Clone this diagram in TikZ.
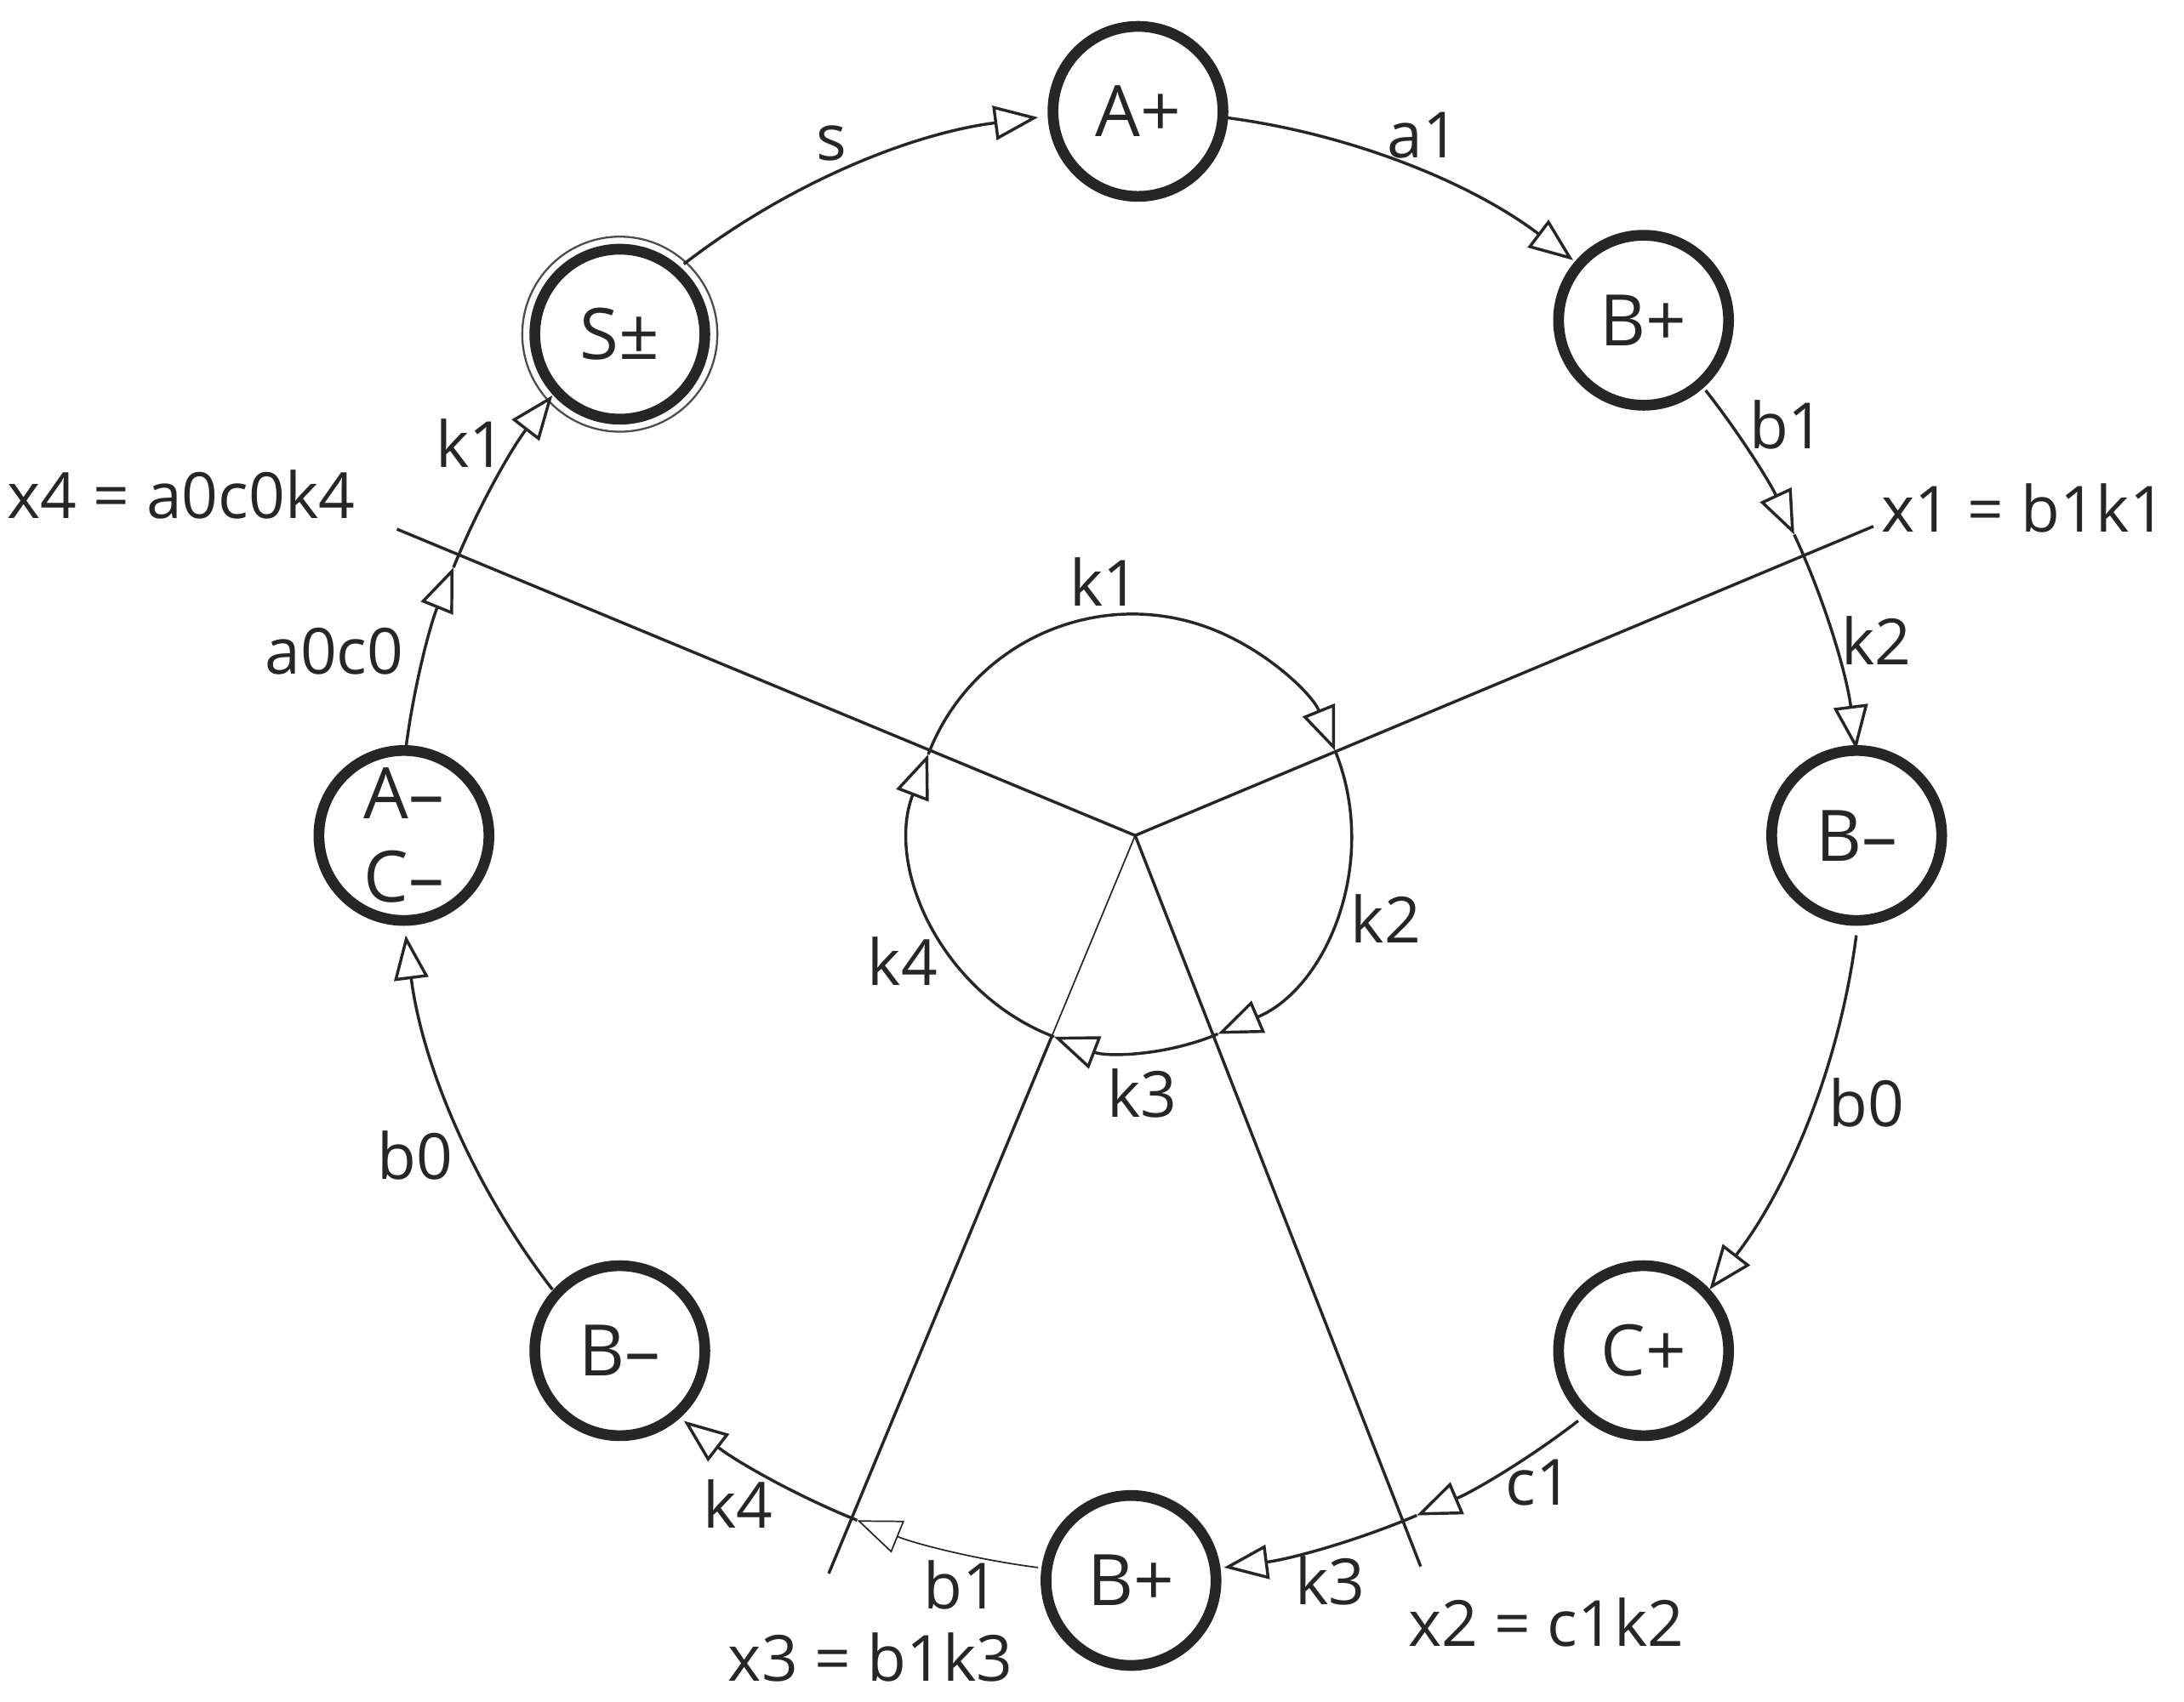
\documentclass[tikz,border=0pt]{standalone}
\usepackage{fontspec}
\setmainfont{Open Sans}
\usetikzlibrary{arrows.meta,calc}
\begin{document}
\begin{tikzpicture}[x=0.01cm,y=-0.01cm,
  st/.style={circle,draw=black!85,line width=2.2pt,minimum size=1.22cm,inner sep=0pt,font=\fontsize{14.5}{16}\selectfont,text=black!85},
  lab/.style={font=\fontsize{13}{14}\selectfont,text=black!85},
  ed/.style={draw=black!85,line width=0.6pt,-{Triangle[open,length=9pt,width=7pt]}},
  ln/.style={draw=black!85,line width=0.6pt}]
\useasboundingbox (0,0) rectangle (1568,1222);
\coordinate (C) at (812,605);
\coordinate (H) at (815,600);
\coordinate (IC) at (813,598);
\node[st] (Ap) at (817,80) {A+};
\node[st] (Bp1) at (1180,230) {B+};
\node[st] (Bm1) at (1333,600) {B–};
\node[st] (Cp) at (1180,970) {C+};
\node[st] (Bp2) at (812,1135) {B+};
\node[st] (Bm2) at (445,970) {B–};
\node[st,align=center,font=\fontsize{14.5}{17}\selectfont] (AC) at (290,600) {A–\\C–};
\node[st] (S) at (445,240) {S±};
\draw[black!70,line width=0.4pt] (S) circle[radius=0.7cm];
% outer arcs (radius 525 px); angles negated because y axis points down
\def\R{525}
\draw[ed] (C) ++(-127.7:\R) arc[start angle=-127.7,end angle=-97.3,radius=\R];
\draw[ed] (C) ++(-82.7:\R) arc[start angle=-82.7,end angle=-52.8,radius=\R];
\draw[ed] (C) ++(-38.2:\R) arc[start angle=-38.2,end angle=-24.9,radius=\R];
\draw[ed] (C) ++(-24.9:\R) arc[start angle=-24.9,end angle=-7.3,radius=\R];
\draw[ed] (C) ++(7.3:\R) arc[start angle=7.3,end angle=37.7,radius=\R];
\draw[ed] (C) ++(52.3:\R) arc[start angle=52.3,end angle=67,radius=\R];
\draw[ed] (C) ++(67:\R) arc[start angle=67,end angle=82.7,radius=\R];
\draw[ed,line width=0.3pt] (C) ++(97.3:\R) arc[start angle=97.3,end angle=112,radius=\R];
\draw[ed] (C) ++(112:\R) arc[start angle=112,end angle=127.7,radius=\R];
\draw[ed] (C) ++(142.3:\R) arc[start angle=142.3,end angle=172.7,radius=\R];
\draw[ed] (C) ++(-172.7:\R) arc[start angle=-172.7,end angle=-157.9,radius=\R];
\draw[ed] (C) ++(-157.9:\R) arc[start angle=-157.9,end angle=-142.3,radius=\R];
% inner circle (radius 157)
\def\r{157}
\draw[ed] (IC) ++(-159:\r) arc[start angle=-159,end angle=-22,radius=\r];
\draw[ed] (IC) ++(-22:\r) arc[start angle=-22,end angle=67,radius=\r];
\draw[ed] (IC) ++(67:\r) arc[start angle=67,end angle=111,radius=\r];
\draw[ed] (IC) ++(111:\r) arc[start angle=111,end angle=201,radius=\r];
% radial lines
\coordinate (e4) at (285,380);
\coordinate (e1) at (1345,378);
\coordinate (e2) at (1020,1125);
\coordinate (e3) at (595,1130);
\draw[ln] (H) -- (e4);
\draw[ln] (H) -- (e1);
\draw[ln] (H) -- (e2);
\coordinate (m3) at ($(H)!0.27!(e3)$);
\draw[ln,line width=0.3pt] (H) -- (m3);
\draw[ln] (m3) -- (e3);
% labels
\node[lab] (l1) at (597,103) {s};
\node[lab] (l2) at (1022,97) {a1};
\node[lab] (l3) at (1283,305) {b1};
\node[lab] (l4) at (1347,460) {k2};
\node[lab] (l5) at (1340,792) {b0};
\node[lab] (l6) at (1105,1065) {c1};
\node[lab] (l7) at (955,1135) {k3};
\node[lab] (l8) at (690,1138) {b1};
\node[lab] (l9) at (530,1080) {k4};
\node[lab] (l10) at (298,830) {b0};
\node[lab] (l11) at (240,468) {a0c0};
\node[lab] (l12) at (338,318) {k1};
\node[lab] (l13) at (793,418) {k1};
\node[lab] (l14) at (995,660) {k2};
\node[lab] (l15) at (820,785) {k3};
\node[lab] (l16) at (648,690) {k4};
\node[lab] (x4) at (130,355) {x4 = a0c0k4};
\node[lab] (x1) at (1453,365) {x1 = b1k1};
\node[lab] (x2) at (1110,1165) {x2 = c1k2};
\node[lab] (x3) at (625,1190) {x3 = b1k3};
\end{tikzpicture}
\end{document}
